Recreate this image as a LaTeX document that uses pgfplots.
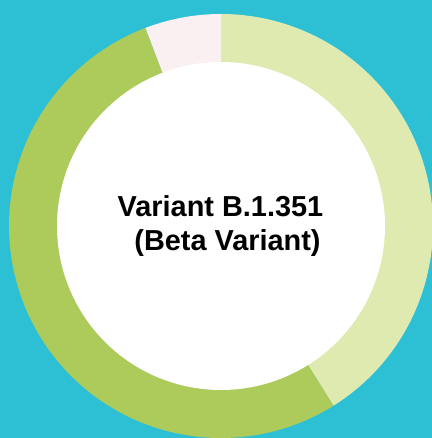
\documentclass[border=0pt]{standalone}
\usepackage{pgfplots}
\pgfplotsset{compat=1.18}
\usepackage{pgfplotstable}
\usepackage{fontspec}
\setmainfont{Liberation Sans}
\definecolor{bgc}{HTML}{2DC0D5}
\definecolor{c1}{HTML}{DFEAB1}
\definecolor{c2}{HTML}{ADCB5B}
\definecolor{c3}{HTML}{FAF0F2}
\pgfplotstableread{
share color
41.1 c1
53.1 c2
5.8 c3
}\pietable
\begin{document}
\begin{tikzpicture}
\useasboundingbox (0,0) rectangle (432bp,438bp);
\fill[bgc] (0,0) rectangle (432bp,438bp);
\begin{axis}[
  at={(0,0)}, anchor=south west,
  scale only axis, width=432bp, height=438bp,
  xmin=-221, xmax=211, ymin=-212, ymax=226,
  hide axis, clip=true,
]
\xdef\cum{90}
\pgfplotsforeachungrouped \i in {0,1,2}{%
  \pgfplotstablegetelem{\i}{share}\of\pietable \let\segshare=\pgfplotsretval
  \pgfplotstablegetelem{\i}{color}\of\pietable \let\segcol=\pgfplotsretval
  \pgfmathsetmacro{\endang}{\cum - 3.6*\segshare}
  \edef\temp{\noexpand\addplot[fill=\segcol, draw=none, domain=\endang:\cum, samples=150] ({212*cos(x)},{212*sin(x)}) -- (axis cs:0,0) -- cycle;}
  \temp
  \xdef\cum{\endang}
}
\addplot[fill=white, draw=none, domain=0:360, samples=300] ({164*cos(x)},{164*sin(x)}) -- cycle;
\node[anchor=base, font=\fontsize{29}{34}\bfseries\selectfont] at (axis cs:-0.5,9) {Variant B.1.351};
\node[anchor=base, font=\fontsize{29}{34}\bfseries\selectfont] at (axis cs:6.5,-25) {(Beta Variant)};
\end{axis}
\end{tikzpicture}
\end{document}
